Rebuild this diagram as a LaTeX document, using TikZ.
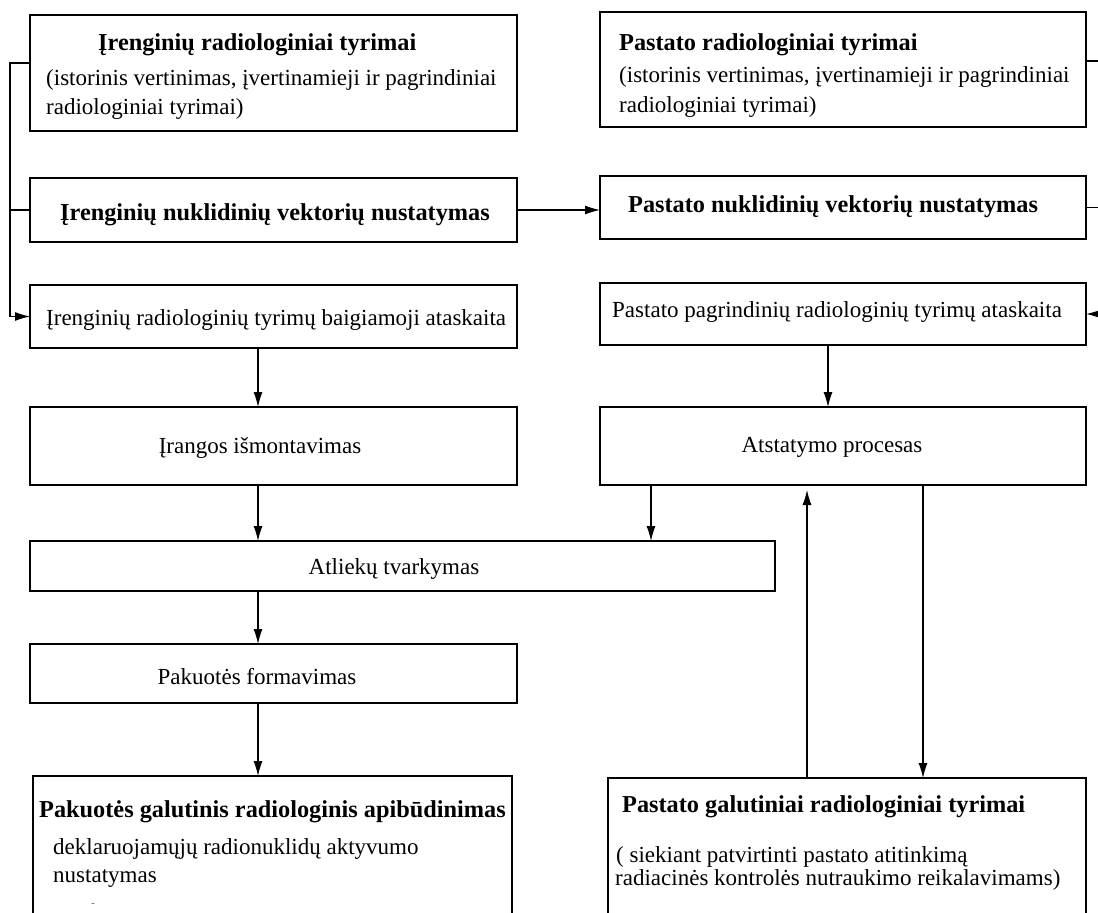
\documentclass[tikz,border=0pt]{standalone}
\usepackage{fontspec}
\setmainfont{Liberation Serif}
\usetikzlibrary{arrows.meta,fit}
\begin{document}
\begin{tikzpicture}[x=1pt,y=-1pt,
  box/.style={draw=black, line width=1.2pt, rectangle, inner sep=0pt, outer sep=0pt},
  wire/.style={draw=black, line width=1.1pt},
  arr/.style={wire, -{Latex[length=15pt,width=9pt]}},
  reg/.style={inner sep=0pt, font=\fontsize{23}{27}\selectfont},
  bld/.style={inner sep=0pt, font=\fontsize{24.3}{28}\selectfont\bfseries},
]
\useasboundingbox (0,0) rectangle (1098,913);
\clip (0,0) rectangle (1098,913);
\fill[white] (0,0) rectangle (1098,913);

% bus lines and arrow columns
\coordinate (lbus) at (10,0);
\coordinate (rbus) at (1101,0);
\coordinate (lcol) at (258,0);
\coordinate (rcol) at (828,0);
\coordinate (rdrop) at (651,0);
\coordinate (rup) at (807,0);
\coordinate (rdown) at (923,0);

% boxes
\node[box, fit={(30,15) (517,131)}] (L1) {};
\node[box, fit={(30,178) (517,242)}] (L2) {};
\node[box, fit={(30,285) (517,348)}] (L3) {};
\node[box, fit={(600,12) (1086,127)}] (R1) {};
\node[box, fit={(600,176) (1086,239)}] (R2) {};
\node[box, fit={(600,283) (1086,345)}] (R3) {};
\node[box, fit={(30,407) (517,485)}] (L4) {};
\node[box, fit={(600,407) (1086,485)}] (R4) {};
\node[box, fit={(30,541) (775,591)}] (AT) {};
\node[box, fit={(30,644) (517,703)}] (PF) {};
\node[box, fit={(33,776) (512,940)}] (PG) {};
\node[box, fit={(608,778) (1086,940)}] (GT) {};

% texts
\node[bld, anchor=base west] (L1t) at (98,50) {Įrenginių radiologiniai tyrimai};
\node[reg, anchor=base west] (L1a) at (46,85) {(istorinis vertinimas, įvertinamieji ir pagrindiniai};
\node[reg, anchor=base west] (L1b) at (46,114) {radiologiniai tyrimai)};
\node[bld, anchor=base west] (L2t) at (60,220) {Įrenginių nuklidinių vektorių nustatymas};
\node[reg, anchor=base west] (L3t) at (46,325) {Įrenginių radiologinių tyrimų baigiamoji ataskaita};

\node[bld, anchor=base west] (R1t) at (619,50) {Pastato radiologiniai tyrimai};
\node[reg, anchor=base west] (R1a) at (619,82) {(istorinis vertinimas, įvertinamieji ir pagrindiniai};
\node[reg, anchor=base west] (R1b) at (619,112) {radiologiniai tyrimai)};
\node[bld, anchor=base west] (R2t) at (628,212) {Pastato nuklidinių vektorių nustatymas};
\node[reg, anchor=base west] (R3t) at (612,317) {Pastato pagrindinių radiologinių tyrimų ataskaita};

\node[reg, anchor=base] (L4t) at (260,453) {Įrangos išmontavimas};
\node[reg, anchor=base] (R4t) at (832,452) {Atstatymo procesas};
\node[reg, anchor=base] (ATt) at (394,574) {Atliekų tvarkymas};
\node[reg, anchor=base] (PFt) at (257,684) {Pakuotės formavimas};

\node[bld, anchor=base west] (PGt) at (39,817) {Pakuotės galutinis radiologinis apibūdinimas};
\node[reg, anchor=base west] (PGa) at (53,854) {deklaruojamųjų radionuklidų aktyvumo};
\node[reg, anchor=base west] (PGb) at (53,882) {nustatymas};
\node[inner sep=0pt, font=\fontsize{10}{12}\selectfont, text=black!70] (PGd) at (93,905) {-};

\node[bld, anchor=base west] (GTt) at (622,812) {Pastato galutiniai radiologiniai tyrimai};
\node[reg, anchor=base west] (GTa) at (616,862) {( siekiant patvirtinti pastato atitinkimą};
\node[reg, anchor=base west] (GTb) at (615,885) {radiacinės kontrolės nutraukimo reikalavimams)};

% left bus: equipment surveys feed the final report
\draw[arr] ([yshift=10pt]L1.west) -- ([yshift=10pt]L1.west -| lbus) |- (L3.west);
\draw[wire] (L2.west) -- (L2.west -| lbus);
\draw[arr] (L2.east) -- (L2.east -| R2.west);

% right bus: building surveys feed the main report
\draw[arr] ([yshift=8.5pt]R1.east) -- ([yshift=8.5pt]R1.east -| rbus) |- (R3.east);
\draw[wire] (R2.east) -- (R2.east -| rbus);

% left column flow
\draw[arr] (L3.south -| lcol) -- (L4.north -| lcol);
\draw[arr] (L4.south -| lcol) -- (AT.north -| lcol);
\draw[arr] (AT.south -| lcol) -- (PF.north -| lcol);
\draw[arr] (PF.south -| lcol) -- (PG.north -| lcol);

% right column flow
\draw[arr] (R3.south -| rcol) -- (R4.north -| rcol);
\draw[arr] (R4.south -| rdrop) -- (AT.north -| rdrop);
\draw[arr, shorten >=5pt] (GT.north -| rup) -- (R4.south -| rup);
\draw[arr] (R4.south -| rdown) -- (GT.north -| rdown);
\end{tikzpicture}
\end{document}
